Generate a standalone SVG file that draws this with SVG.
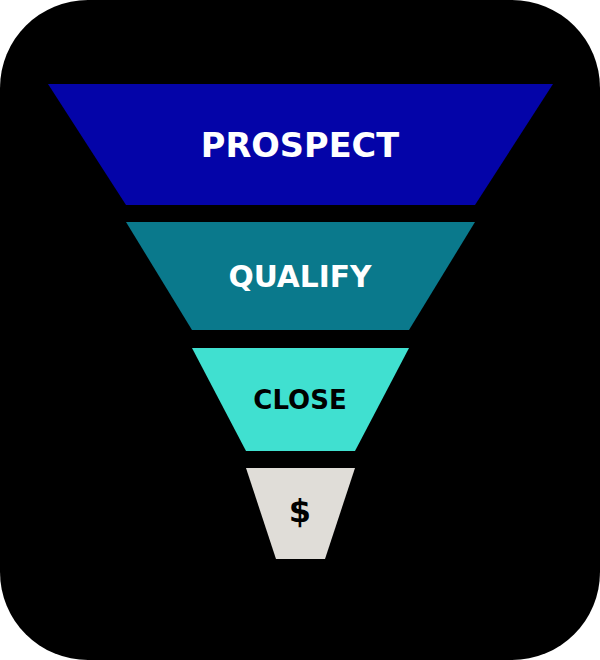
<svg xmlns="http://www.w3.org/2000/svg" width="600" height="660" viewBox="0 0 600 660">
<style>
.lbl{font-family:"DejaVu Sans",sans-serif;font-weight:bold;text-anchor:middle}
.w{fill:#ffffff}
.k{fill:#000000}
</style>
<rect x="0" y="0" width="600" height="660" fill="#ffffff"/>
<rect id="background" x="0" y="0" width="600" height="660" rx="88" ry="88" fill="#000000"/>
<g id="prospect">
<polygon points="48,84 553,84 475,205 126,205" fill="#0404a8"/>
<text class="lbl w" x="300" y="157" font-size="33.6">PROSPECT</text>
</g>
<g id="qualify">
<polygon points="126,222 475,222 409,330 192,330" fill="#0a798c"/>
<text class="lbl w" x="300" y="286.5" font-size="29.7">QUALIFY</text>
</g>
<g id="close">
<polygon points="192,348 409,348 355,451 246,451" fill="#40e0d0"/>
<text class="lbl k" x="300" y="409" font-size="26">CLOSE</text>
</g>
<g id="money">
<polygon points="246,468 355,468 325,559 276,559" fill="#e0ddd8"/>
<text class="lbl k" x="300" y="522" font-size="32">$</text>
</g>
<g id="connectors"></g>
</svg>
